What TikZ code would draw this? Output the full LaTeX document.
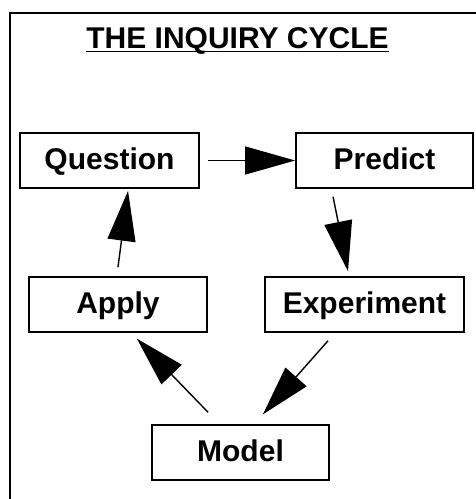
\documentclass[tikz,border=0pt]{standalone}
\usepackage{fontspec}
\setmainfont{Liberation Sans}
\usetikzlibrary{arrows.meta,calc}
\begin{document}
\begin{tikzpicture}[x=1pt,y=-1pt,
  box/.style={draw,line width=1.8pt,rectangle,inner sep=0pt,minimum height=55pt,
    text height=22pt,text depth=4pt,
    font=\fontsize{30}{36}\selectfont\bfseries},
  flow/.style={line width=1.4pt,-{Triangle[length=50pt,width=28pt]}},
  lbl/.style={inner sep=0pt,font=\fontsize{30}{36}\selectfont\bfseries}]
\useasboundingbox (0,0) rectangle (475,499);
\draw[line width=2pt] (10,13) rectangle (490,515);
\node[lbl,anchor=base] (t) at (237.5,48) {THE INQUIRY CYCLE};
\draw[line width=1.8pt] ([yshift=-3.5pt]t.base west) -- ([yshift=-3.5pt]t.base east);
\node[box,minimum width=179pt] (q) at (109.5,160.5) {Question};
\node[box,minimum width=177pt] (p) at (384.5,160.5) {Predict};
\node[box,minimum width=178pt] (a) at (118,304.5) {Apply};
\node[box,minimum width=199pt] (e) at (364.5,304.5) {Experiment};
\node[box,minimum width=177pt] (m) at (240.5,452.5) {Model};
\draw[flow,shorten <=8pt] (q.east) -- (p.west);
\draw[flow,shorten <=8pt,shorten >=5pt] ([xshift=-53pt]p.south) -- ([xshift=-15.5pt]e.north);
\draw[flow,shorten <=10.6pt,shorten >=13pt] ([xshift=-29.5pt]e.south) -- ([xshift=13.8pt]m.north);
\draw[flow,shorten <=16.5pt,shorten >=8pt] ([xshift=-21pt]m.north) -- ([xshift=13.3pt]a.south);
\draw[flow,shorten <=9pt,shorten >=2pt] ([xshift=-1.2pt]a.north) -- ([xshift=18.8pt]q.south);
\end{tikzpicture}
\end{document}
